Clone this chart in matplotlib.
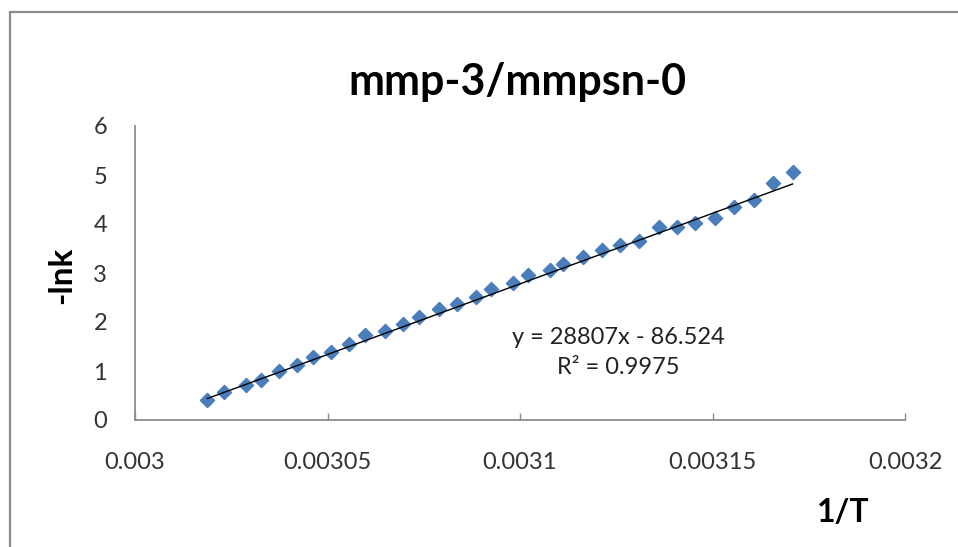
import matplotlib
matplotlib.use("Agg")
import matplotlib.pyplot as plt
from matplotlib.patches import Rectangle

# 1/T (1/K) and -ln k
inv_T = [0.0030188, 0.0030232, 0.0030288, 0.0030326, 0.0030373, 0.0030420,
         0.0030462, 0.0030508, 0.0030555, 0.0030597, 0.0030649, 0.0030697,
         0.0030737, 0.0030790, 0.0030837, 0.0030886, 0.0030924, 0.0030981,
         0.0031021, 0.0031078, 0.0031112, 0.0031163, 0.0031213, 0.0031260,
         0.0031310, 0.0031360, 0.0031407, 0.0031455, 0.0031506, 0.0031557,
         0.0031608, 0.0031658, 0.0031708]
neg_lnk = [0.41, 0.57, 0.71, 0.82, 0.99, 1.12, 1.28, 1.39, 1.56, 1.73, 1.82,
           1.95, 2.10, 2.26, 2.37, 2.52, 2.67, 2.79, 2.95, 3.06, 3.18, 3.32,
           3.47, 3.57, 3.66, 3.94, 3.93, 4.03, 4.12, 4.35, 4.49, 4.83, 5.07]

# linear trendline
slope = 28807
intercept = -86.524
r_squared = 0.9975

x_ticks = [0.003, 0.00305, 0.0031, 0.00315, 0.0032]
x_tick_labels = ["0.003", "0.00305", "0.0031", "0.00315", "0.0032"]
y_ticks = [0, 1, 2, 3, 4, 5, 6]

FONT = "Lato"
W, H = 958, 547
fig = plt.figure(figsize=(W / 100, H / 100), dpi=100)
fig.patch.set_facecolor("white")

# chart frame
fig.patches.append(Rectangle((10 / W, -0.2), 1.3, 1.2 - 12 / H,
                             transform=fig.transFigure, fill=False,
                             edgecolor="#8c8c8c", linewidth=1.6))

ax = fig.add_axes([135 / W, 1 - 420 / H, 770 / W, 294 / H])
ax.set_xlim(0.003, 0.0032)
ax.set_ylim(0, 6)

ax.scatter(inv_T, neg_lnk, marker="D", s=52, color="#4a7ebb",
           edgecolors="#4a7ebb", zorder=3)

x0, x1 = inv_T[0], inv_T[-1]
ax.plot([x0, x1], [slope * x0 + intercept, slope * x1 + intercept],
        color="black", linewidth=1.0, zorder=4)

for side in ("top", "right"):
    ax.spines[side].set_visible(False)
for side in ("left", "bottom"):
    ax.spines[side].set_color("#8c8c8c")
    ax.spines[side].set_linewidth(1.3)

ax.set_xticks(x_ticks)
ax.set_xticklabels(x_tick_labels)
ax.set_yticks(y_ticks)
ax.tick_params(axis="x", direction="in", length=5, color="#8c8c8c",
               width=1.0, pad=23, labelsize=17, labelcolor="#333333")
ax.tick_params(axis="y", length=0, pad=20, labelsize=17,
               labelcolor="#333333")
for lbl in ax.get_xticklabels() + ax.get_yticklabels():
    lbl.set_family(FONT)

fig.text(517 / W, 1 - 82 / H, "mmp-3/mmpsn-0", ha="center", va="center",
         fontsize=31, fontweight="bold", family=FONT, color="black")
fig.text(62 / W, 1 - 275 / H, "-lnk", ha="center", va="center",
         rotation=90, fontsize=24, fontweight="bold", family=FONT)
fig.text(843 / W, 1 - 513 / H, "1/T", ha="center", va="center",
         fontsize=23, fontweight="bold", family=FONT)

fig.text(618 / W, 1 - 337 / H, f"y = {slope}x - {abs(intercept)}",
         ha="center", va="center", fontsize=17, family=FONT, color="#222222")
fig.text(618 / W, 1 - 368 / H, f"R² = {r_squared}",
         ha="center", va="center", fontsize=17, family=FONT, color="#222222")

fig.savefig("out.png", dpi=100)
